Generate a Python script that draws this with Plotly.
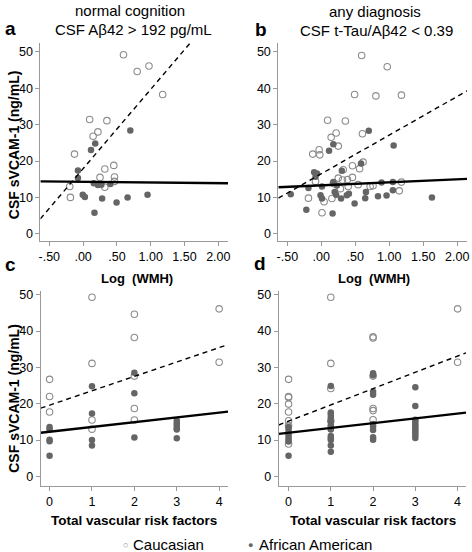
import plotly.graph_objects as go

# ---------------- DATA ----------------
# Panel a: normal cognition, CSF Ab42 > 192 pg/mL  (x = Log(WMH), y = CSF sVCAM-1 ng/mL)
a_cau_x = [0.597, 0.800, 0.974, 1.177, 0.097, 0.352, 0.219, 0.148, -0.127, 0.454, 0.321, 0.250, 0.464, 0.464, -0.198, 0.321, -0.188]
a_cau_y = [49.2, 44.6, 46.1, 38.3, 31.4, 31.1, 28.0, 26.8, 21.9, 18.8, 17.8, 15.5, 15.6, 14.4, 13.0, 12.8, 10.0]
a_afr_x = [0.698, 0.179, 0.117, -0.076, -0.076, 0.158, 0.219, 0.270, 0.403, -0.005, 0.026, 0.281, 0.658, 0.953, 0.495, 0.168]
a_afr_y = [28.4, 24.8, 23.0, 17.4, 15.3, 13.9, 13.4, 13.5, 13.7, 10.7, 10.1, 9.7, 10.0, 10.7, 8.6, 5.8]
a_fit_cau = [17.9, 21.8]   # intercept, slope
a_fit_afr = [14.28, -0.18]

# Panel b: any diagnosis, CSF t-Tau/Ab42 < 0.39
b_cau_x = [0.594, 0.490, 0.803, 0.093, 0.354, 0.218, 0.145, 0.250, 0.605, -0.032, -0.126, -0.022, 0.615,
           0.458, 0.563, 0.323, 0.250, 0.458, 0.385, 0.312, -0.085, 0.177, 0.542, 0.761, 0.396, 0.281,
           -0.189, 0.041, 0.156, 0.010, 0.970, 1.179, 0.719, 1.179, 1.147]
b_cau_y = [49.0, 38.3, 37.9, 31.2, 31.0, 27.7, 26.5, 24.1, 27.5, 23.1, 21.9, 21.7, 19.7,
           18.7, 17.9, 17.6, 15.3, 15.5, 14.9, 14.8, 14.4, 13.8, 13.5, 13.2, 13.0, 12.4,
           9.8, 8.8, 9.7, 5.8, 45.9, 38.1, 13.0, 14.2, 11.8]
b_afr_x = [0.699, 0.177, 0.114, 0.584, 0.302, -0.105, -0.064, -0.085, 0.177, 0.229, -0.189, 0.010,
           -0.450, -0.011, 0.010, 0.197, 0.218, 0.291, 0.375, 0.406, 0.657, 0.646, 0.490, -0.220,
           0.166, 1.064, 0.886, 1.053, 0.834, 0.960, 1.053, 1.628]
b_afr_y = [28.3, 24.6, 22.8, 19.3, 17.3, 16.9, 16.6, 15.7, 14.2, 13.3, 12.6, 13.0,
           10.9, 10.6, 9.7, 11.5, 10.7, 9.7, 10.6, 11.0, 11.5, 9.8, 8.3, 6.6,
           5.6, 24.3, 14.1, 14.2, 10.3, 10.5, 12.0, 10.0]
b_fit_cau = [16.5, 10.63]
b_fit_afr = [13.33, 0.823]

# Panel c: normal cognition (x = total vascular risk factors)
c_cau_x = [0, 0, 0, 1, 1, 1, 1, 2, 2, 2, 2, 2, 4, 4]
c_cau_y = [26.7, 22.0, 17.7, 49.3, 31.1, 15.5, 13.0, 44.6, 38.2, 27.6, 18.7, 15.5, 46.1, 31.4]
c_afr_x = [0, 0, 0, 0, 0, 1, 1, 1, 1, 2, 2, 2, 3, 3, 3, 3, 3, 3]
c_afr_y = [13.6, 13.0, 10.1, 9.7, 5.7, 24.8, 17.3, 10.0, 8.5, 28.5, 22.9, 10.7, 15.3, 14.6, 14.0, 13.3, 12.9, 10.5]
c_fit_cau = [19.6, 3.96]
c_fit_afr = [12.3, 1.31]

# Panel d: any diagnosis (x = total vascular risk factors)
d_cau_x = [0, 0, 0, 0, 0, 0, 0, 0, 1, 1, 1, 1, 2, 2, 2, 2, 2, 2, 4, 4]
d_cau_y = [26.7, 22.0, 21.7, 19.9, 17.7, 15.3, 14.0, 8.9, 49.3, 31.1, 24.2, 15.3, 38.4, 38.1, 27.6, 18.7, 18.1, 15.6, 46.1, 31.4]
d_afr_x = [0, 0, 0, 0, 0, 0, 0, 0,
           1, 1, 1, 1, 1, 1, 1, 1, 1, 1, 1, 1, 1,
           2, 2, 2, 2, 2, 2, 2, 2, 2,
           3, 3, 3, 3, 3, 3, 3, 3, 3, 3, 3]
d_afr_y = [13.6, 12.9, 12.1, 11.5, 10.8, 10.1, 9.6, 5.7,
           24.9, 17.6, 17.0, 16.2, 15.1, 14.1, 13.6, 12.9, 11.1, 10.5, 10.0, 8.5, 6.8,
           28.4, 27.8, 23.3, 22.5, 14.4, 13.7, 12.8, 10.8, 10.1,
           24.5, 19.4, 15.6, 15.1, 14.4, 13.8, 13.2, 12.6, 12.0, 11.3, 10.6]
d_fit_cau = [15.2, 4.48]
d_fit_afr = [12.0, 1.32]

wmh_tickvals = [-0.5, 0, 0.5, 1.0, 1.5, 2.0]
wmh_ticktext = ["-.50", ".00", ".50", "1.00", "1.50", "2.00"]
vrf_tickvals = [0, 1, 2, 3, 4]
y_tickvals = [0, 10, 20, 30, 40, 50]
group_names = ["Caucasian", "African American"]

# ---------------- FIGURE ----------------
W, H = 472, 552
FONT = "Liberation Sans, Arial, sans-serif"
OPEN_COL = "#8c8c8c"
FILL_COL = "#656565"

panels = [
    ("x", "y", [-0.632, 2.144], a_cau_x, a_cau_y, a_afr_x, a_afr_y, a_fit_cau, a_fit_afr),
    ("x2", "y2", [-0.632, 2.144], b_cau_x, b_cau_y, b_afr_x, b_afr_y, b_fit_cau, b_fit_afr),
    ("x3", "y3", [-0.21, 4.21], c_cau_x, c_cau_y, c_afr_x, c_afr_y, c_fit_cau, c_fit_afr),
    ("x4", "y4", [-0.235, 4.2], d_cau_x, d_cau_y, d_afr_x, d_afr_y, d_fit_cau, d_fit_afr),
]

fig = go.Figure()
for i, (xa, ya, xr, cx, cy, fx, fy, fc, ff) in enumerate(panels):
    fig.add_trace(go.Scatter(
        x=cx, y=cy, mode="markers", xaxis=xa, yaxis=ya, name=group_names[0], showlegend=False,
        marker=dict(symbol="circle-open", size=6.5, color=OPEN_COL, line=dict(width=1.1, color=OPEN_COL)),
    ))
    fig.add_trace(go.Scatter(
        x=fx, y=fy, mode="markers", xaxis=xa, yaxis=ya, name=group_names[1], showlegend=False,
        marker=dict(symbol="circle", size=6.5, color=FILL_COL, line=dict(width=0)),
    ))
    # regression lines from the read-off intercept / slope
    fig.add_trace(go.Scatter(
        x=xr, y=[fc[0] + fc[1] * v for v in xr], mode="lines", xaxis=xa, yaxis=ya,
        showlegend=False, hoverinfo="skip",
        line=dict(color="black", width=1.4, dash="5px,4px"),
    ))
    fig.add_trace(go.Scatter(
        x=xr, y=[ff[0] + ff[1] * v for v in xr], mode="lines", xaxis=xa, yaxis=ya,
        showlegend=False, hoverinfo="skip",
        line=dict(color="black", width=2.4),
    ))


def px_dom_x(a, b):
    return [a / W, b / W]


def px_dom_y(top, bottom):
    return [1 - bottom / H, 1 - top / H]


axis_common = dict(
    showgrid=False, zeroline=False, showline=True, linecolor="#9a9a9a", linewidth=1,
    ticks="outside", ticklen=4, tickcolor="#9a9a9a", tickwidth=1,
    tickfont=dict(family=FONT, size=12.5, color="black"),
)

top_dom = px_dom_y(40, 239)
bot_dom = px_dom_y(290, 486)
yr_top = [-1.9, 52.5]
yr_bot = [-2.74, 50.9]

fig.update_layout(
    xaxis=dict(domain=px_dom_x(38.7, 228), range=panels[0][2], anchor="y",
               tickvals=wmh_tickvals, ticktext=wmh_ticktext, **axis_common),
    yaxis=dict(domain=top_dom, range=yr_top, anchor="x", tickvals=y_tickvals, **axis_common),
    xaxis2=dict(domain=px_dom_x(278.7, 469), range=panels[1][2], anchor="y2",
                tickvals=wmh_tickvals, ticktext=wmh_ticktext, **axis_common),
    yaxis2=dict(domain=top_dom, range=yr_top, anchor="x2", tickvals=y_tickvals, **axis_common),
    xaxis3=dict(domain=px_dom_x(39, 228), range=panels[2][2], anchor="y3",
                tickvals=vrf_tickvals, **axis_common),
    yaxis3=dict(domain=bot_dom, range=yr_bot, anchor="x3", tickvals=y_tickvals, **axis_common),
    xaxis4=dict(domain=px_dom_x(279, 468), range=panels[3][2], anchor="y4",
                tickvals=vrf_tickvals, **axis_common),
    yaxis4=dict(domain=bot_dom, range=yr_bot, anchor="x4", tickvals=y_tickvals, **axis_common),
)


def ann(text, x, y, size=14, bold=False, angle=0, xanchor="center", color="black"):
    t = f"<b>{text}</b>" if bold else text
    fig.add_annotation(text=t, x=x / W, y=1 - y / H, xref="paper", yref="paper",
                       showarrow=False, xanchor=xanchor, yanchor="middle", textangle=angle,
                       font=dict(family=FONT, size=size, color=color))


# panel titles
ann("normal cognition", 129, 8, size=15)
ann("CSF Aβ42 &gt; 192 pg/mL", 133, 27, size=15)
ann("any diagnosis", 376, 9, size=15)
ann("CSF t-Tau/Aβ42 &lt; 0.39", 378, 28, size=15)
# panel letters
ann("a", 9, 26, size=19, bold=True)
ann("b", 261, 27, size=19, bold=True)
ann("c", 9, 263, size=19, bold=True)
ann("d", 260, 262, size=19, bold=True)
# x-axis titles
ann("Log  (WMH)", 136, 277, size=13, bold=True)
ann("Log  (WMH)", 375, 277, size=13, bold=True)
ann("Total vascular risk factors", 133, 520, size=13.5, bold=True)
ann("Total vascular risk factors", 374, 520, size=13.5, bold=True)
# y-axis titles
ann("CSF sVCAM-1 (ng/mL)", 12, 142, size=14, bold=True, angle=-90)
ann("CSF sVCAM-1 (ng/mL)", 12, 397, size=14, bold=True, angle=-90)

# legend (bottom, centred)
ann("○", 125, 545, size=9, color=OPEN_COL)
ann(group_names[0], 130, 544, size=15, xanchor="left")
ann("●", 251, 545, size=9, color=FILL_COL)
ann(group_names[1], 257, 544, size=15, xanchor="left")

fig.update_layout(
    width=W, height=H, margin=dict(l=0, r=0, t=0, b=0),
    paper_bgcolor="white", plot_bgcolor="white",
    font=dict(family=FONT, color="black"),
    showlegend=False,
)

# remove the browser's default 8px body margin so the figure fills the window exactly
fig.write_html("out.html", config={"displayModeBar": False},
               post_script="document.body.style.margin='0';document.body.style.overflow='hidden';")
